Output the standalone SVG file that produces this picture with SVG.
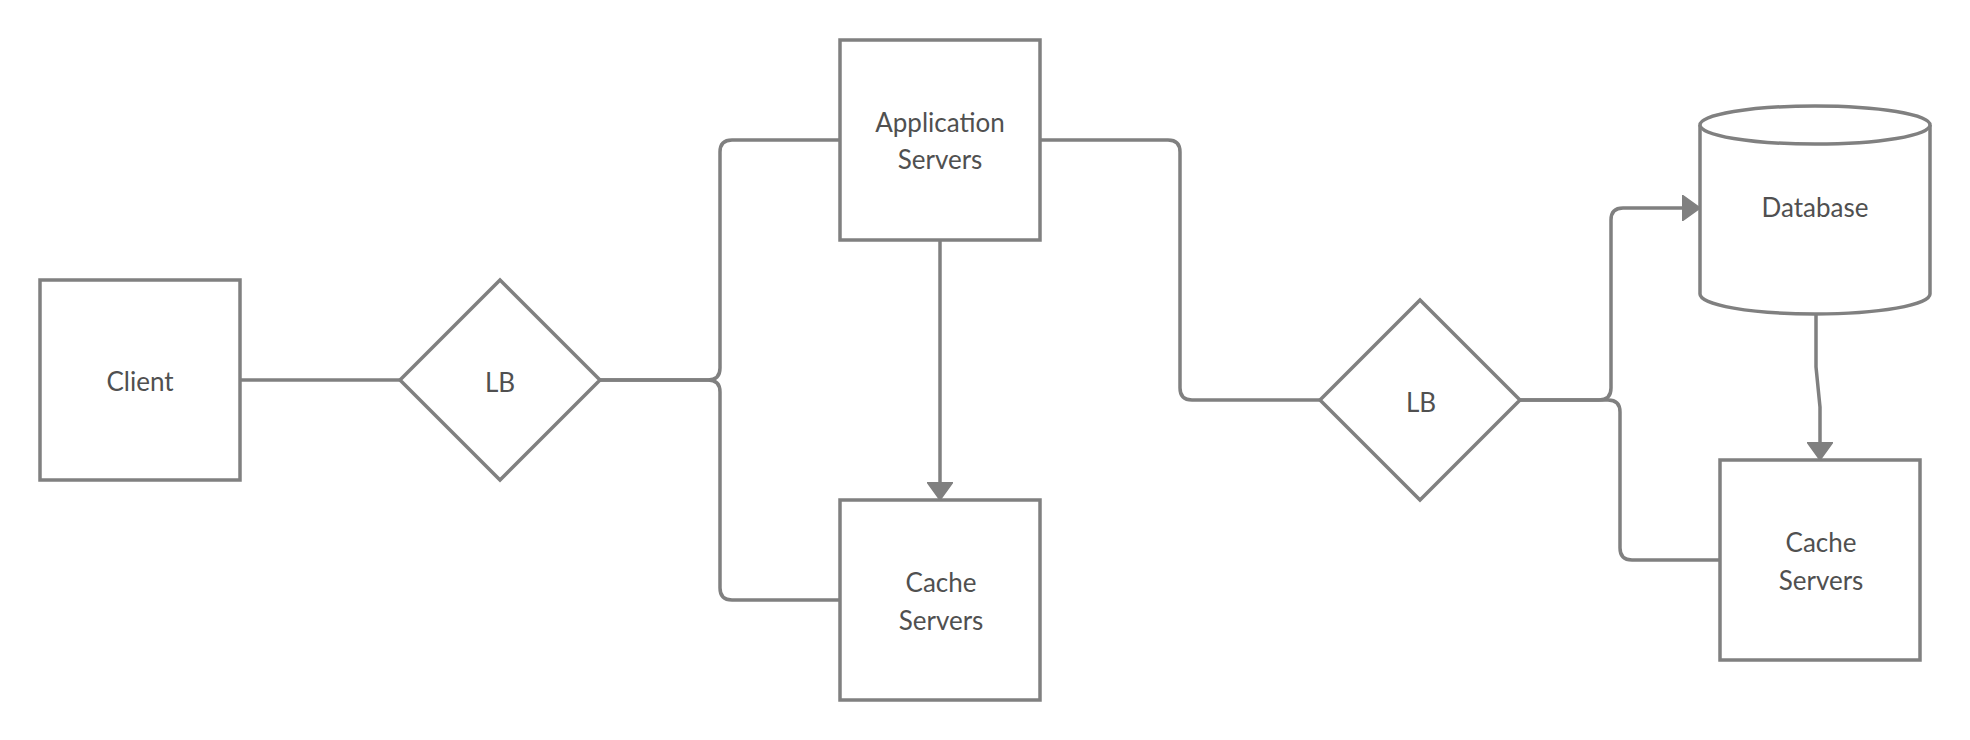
<svg xmlns="http://www.w3.org/2000/svg" width="1970" height="740" viewBox="0 0 1970 740">
<style>
.shape{fill:#ffffff;stroke:#808080;stroke-width:3.5;}
.conn{fill:none;stroke:#808080;stroke-width:3.5;}
.lbl{font-family:Lato,"Open Sans","Liberation Sans",sans-serif;font-size:26px;fill:#505050;text-anchor:middle;}
</style>
<defs>
<marker id="arr" viewBox="0 0 18 26" refX="0" refY="13" markerWidth="18" markerHeight="26" markerUnits="userSpaceOnUse" orient="auto">
<path d="M0,0 L18,13 L0,26 Z" fill="#808080" stroke="#808080" stroke-width="1.5" stroke-linejoin="round"/>
</marker>
</defs>
<rect width="1970" height="740" fill="#ffffff"/>
<g id="connectors">
<path class="conn" d="M240,380 H400"/>
<path class="conn" d="M600,380 H708 Q720,380 720,368 V152 Q720,140 732,140 H840"/>
<path class="conn" d="M600,380 H708 Q720,380 720,392 V588 Q720,600 732,600 H840"/>
<path class="conn" d="M940,240 V482" marker-end="url(#arr)"/>
<path class="conn" d="M1040,140 H1168 Q1180,140 1180,152 V388 Q1180,400 1192,400 H1320"/>
<path class="conn" d="M1520,400 H1599 Q1611,400 1611,388 V220 Q1611,208 1623,208 H1682" marker-end="url(#arr)"/>
<path class="conn" d="M1520,400 H1608 Q1620,400 1620,412 V548 Q1620,560 1632,560 H1720"/>
<path class="conn" d="M1816,315 V367 L1820,407 V442" marker-end="url(#arr)"/>
</g>
<g id="client">
<rect class="shape" x="40" y="280" width="200" height="200"/>
<text class="lbl" x="140" y="391">Client</text>
</g>
<g id="lb1">
<polygon class="shape" points="500,280 600,380 500,480 400,380"/>
<text class="lbl" x="500" y="392">LB</text>
</g>
<g id="app-servers">
<rect class="shape" x="840" y="40" width="200" height="200"/>
<text class="lbl" x="940" y="132">Application</text>
<text class="lbl" x="940" y="169">Servers</text>
</g>
<g id="cache-servers-1">
<rect class="shape" x="840" y="500" width="200" height="200"/>
<text class="lbl" x="941" y="592">Cache</text>
<text class="lbl" x="941" y="630">Servers</text>
</g>
<g id="lb2">
<polygon class="shape" points="1420,300 1520,400 1420,500 1320,400"/>
<text class="lbl" x="1421" y="412">LB</text>
</g>
<g id="database">
<path class="shape" d="M1700,125 V294 A115,20 0 0 0 1930,294 V125"/>
<ellipse class="shape" cx="1815" cy="125" rx="115" ry="19"/>
<text class="lbl" x="1815" y="217">Database</text>
</g>
<g id="cache-servers-2">
<rect class="shape" x="1720" y="460" width="200" height="200"/>
<text class="lbl" x="1821" y="552">Cache</text>
<text class="lbl" x="1821" y="590">Servers</text>
</g>
</svg>
